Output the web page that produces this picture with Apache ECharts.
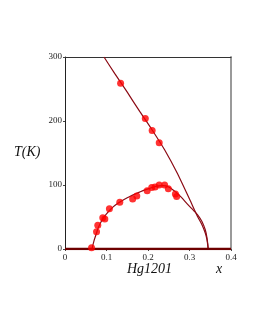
<!DOCTYPE html>
<html><head><meta charset="utf-8">
<script src="https://cdn.jsdelivr.net/npm/echarts@6/dist/echarts.min.js"></script>
<style>html,body{margin:0;padding:0;background:#fff}#c{width:255px;height:330px}</style>
</head><body><div id="c"></div>
<script>
// Data (x = doping, T in K)
var xTicks = [0, 0.1, 0.2, 0.3, 0.4];
var yTicks = [0, 100, 200, 300];
var pseudoX = [0.134, 0.1935, 0.21, 0.227];
var pseudoT = [259, 204, 185, 166];
var tcX = [0.064, 0.076, 0.079, 0.091, 0.096, 0.107, 0.132, 0.163, 0.173, 0.198, 0.209, 0.217, 0.227, 0.240, 0.249, 0.266, 0.269];
var tcT = [2, 27, 37, 49, 47, 63, 73, 78, 83, 91, 96, 97, 100, 100, 94, 86, 82];
var upperX = [0.094, 0.12, 0.15, 0.18, 0.21, 0.24, 0.27, 0.30, 0.32, 0.33, 0.338, 0.342, 0.344, 0.345];
var upperT = [300, 274, 245, 215, 186, 155, 119, 78, 50, 38, 25, 15, 6, 0];
var domeX = [0.065, 0.07, 0.075, 0.08, 0.09, 0.10, 0.12, 0.15, 0.18, 0.20, 0.22, 0.235, 0.25, 0.265, 0.28, 0.295, 0.31, 0.32, 0.33, 0.338, 0.342, 0.344, 0.345];
var domeT = [0, 13, 23, 33, 46, 55, 68, 80, 89, 94, 98, 99, 97, 90, 81, 70, 60, 53, 43, 30, 18, 8, 0];
var baseX = [0, 0.4];
var baseT = [0, 0];

function zip(a, b) { return a.map(function (v, i) { return [v, b[i]]; }); }

var chart = echarts.init(document.getElementById('c'), null, { renderer: 'canvas' });
var serif = '"Liberation Serif", "DejaVu Serif", serif';
var maroon = '#8b0a14';
chart.setOption({
  animation: false,
  grid: { left: 65, top: 57, width: 166, height: 192, containLabel: false },
  xAxis: [{
    type: 'value', min: xTicks[0], max: xTicks[xTicks.length - 1], interval: 0.1,
    axisLine: { show: true, onZero: false, lineStyle: { color: '#222', width: 1 } },
    axisTick: { show: true, inside: false, length: 2, lineStyle: { color: '#444' } },
    splitLine: { show: false },
    axisLabel: { color: '#222', fontFamily: serif, fontSize: 9, margin: 4,
      formatter: function (v) { return String(Math.round(v * 10) / 10); } }
  }, {
    type: 'value', position: 'top', min: 0, max: 0.4,
    axisLine: { show: true, onZero: false, lineStyle: { color: '#333', width: 1 } },
    axisTick: { show: false }, axisLabel: { show: false }, splitLine: { show: false }
  }],
  yAxis: [{
    type: 'value', min: yTicks[0], max: yTicks[yTicks.length - 1], interval: 100,
    axisLine: { show: true, onZero: false, lineStyle: { color: '#222', width: 1 } },
    axisTick: { show: true, length: 2, lineStyle: { color: '#444' } },
    splitLine: { show: false },
    axisLabel: { color: '#222', fontFamily: serif, fontSize: 9, margin: 3 }
  }, {
    type: 'value', position: 'right', min: 0, max: 300,
    axisLine: { show: true, onZero: false, lineStyle: { color: '#9a9a9a', width: 2 } },
    axisTick: { show: false }, axisLabel: { show: false }, splitLine: { show: false }
  }],
  series: [
    { type: 'line', data: zip(upperX, upperT), showSymbol: false, smooth: 0.2,
      lineStyle: { color: maroon, width: 1.2 }, z: 2 },
    { type: 'line', data: zip(domeX, domeT), showSymbol: false, smooth: 0.3,
      lineStyle: { color: maroon, width: 1.2 }, z: 2 },
    { type: 'line', data: zip(baseX, baseT), showSymbol: false,
      lineStyle: { color: '#6e0000', width: 2.5 }, z: 3 },
    { type: 'scatter', data: zip(tcX, tcT), symbolSize: 7,
      itemStyle: { color: '#ff0000' }, z: 4 },
    { type: 'scatter', data: zip(pseudoX, pseudoT), symbolSize: 7,
      itemStyle: { color: '#ff0000' }, z: 4 }
  ],
  graphic: [
    { type: 'text', left: 14, top: 145, style: { text: 'T(K)', font: 'italic 14px ' + serif, fill: '#111' } },
    { type: 'text', left: 127, top: 262, style: { text: 'Hg1201', font: 'italic 14px ' + serif, fill: '#111' } },
    { type: 'text', left: 216, top: 262, style: { text: 'x', font: 'italic 14px ' + serif, fill: '#111' } }
  ]
});
</script></body></html>
